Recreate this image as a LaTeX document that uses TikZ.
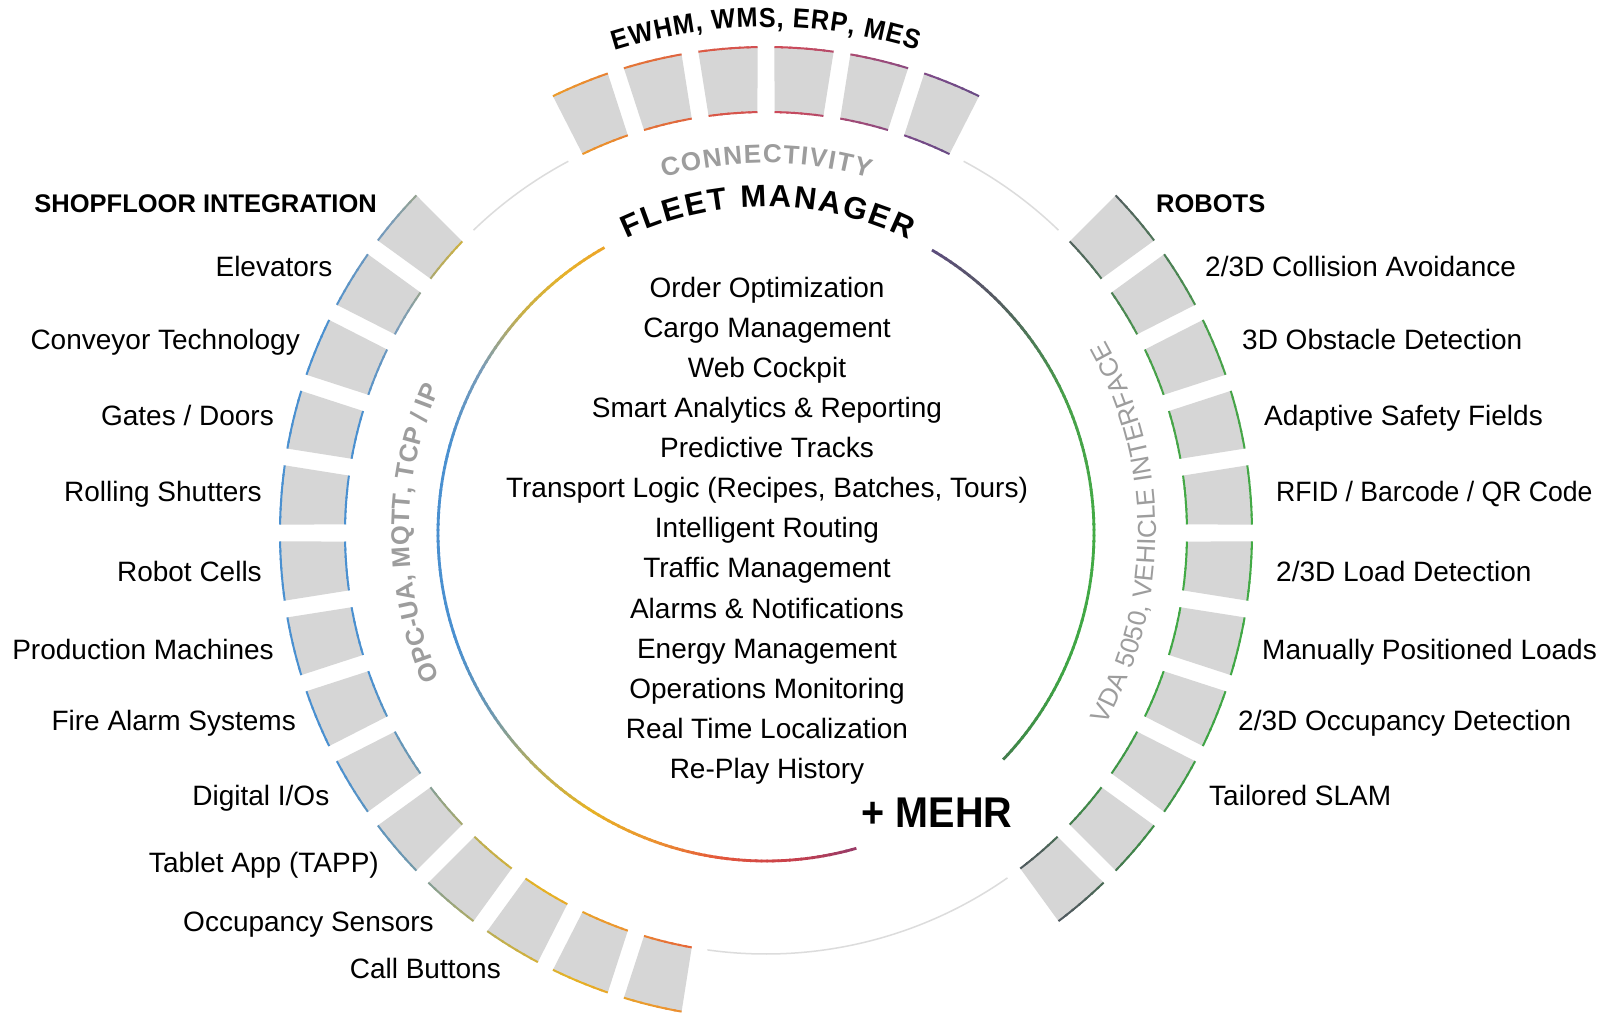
\documentclass[tikz,border=0pt]{standalone}
\usepackage{fontspec}
\setmainfont{Liberation Sans}
\newfontfamily\narrowfont[FakeStretch=0.92]{Liberation Sans}
\newfontfamily\rfidfont[FakeStretch=0.95]{Liberation Sans}
\usetikzlibrary{decorations.text}
\definecolor{segfill}{HTML}{D6D6D6}
\definecolor{ringgray}{HTML}{DCDCDC}
\definecolor{labgray}{HTML}{9D9D9D}
\definecolor{tmpA}{HTML}{000000}
\definecolor{tmpB}{HTML}{000000}
\foreach \a/\ca/\b/\cb in {-70/5A4A78/-50/4F5E5C,-50/4F5E5C/-40/3F8A48,-40/3F8A48/-25/3FA545,-25/3FA545/0/43AB45,0/43AB45/25/48A04A,25/48A04A/35/4C7E55,35/4C7E55/46/565A62,46/565A62/62/5E4A82,62/5E4A82/70/7A4A88,70/7A4A88/79/A54A74,79/A54A74/88/CC4A5A,88/CC4A5A/98/DC5A44,98/DC5A44/108/E67A34,108/E67A34/118/EEA228,118/EEA228/128/E6B22A,128/E6B22A/138/C8B048,138/C8B048/150/7A9CB8,150/7A9CB8/165/4A90D0,165/4A90D0/200/4A90D0,200/4A90D0/214/6E98B0,214/6E98B0/226/B8AE58,226/B8AE58/238/E6B224,238/E6B224/250/EC9430,250/EC9430/262/E4583A,262/E4583A/275/C8404C,275/C8404C/288/8E3A6E,288/8E3A6E/300/8E3A6E}{%
  \definecolor{tmpA}{HTML}{\ca}\definecolor{tmpB}{HTML}{\cb}%
  \pgfmathtruncatemacro\gbm{\b-1}%
  \foreach \t in {\a,...,\gbm}{%
    \pgfmathtruncatemacro\gpp{round(100*(\t-(\a))/((\b)-(\a)))}%
    \pgfmathtruncatemacro\gidx{\t+100}%
    \xglobal\colorlet{gc\gidx}{tmpB!\gpp!tmpA}%
  }%
}
% radius, start angle, end angle, line width, colour offset (degrees)
\newcommand\gradarc[5]{%
  \pgfmathsetmacro\gGA{#2}\pgfmathsetmacro\gGB{#3}%
  \pgfmathtruncatemacro\gGN{max(1,round(abs(\gGB-\gGA)))}%
  \pgfmathsetmacro\gST{(\gGB-\gGA)/\gGN}%
  \foreach \i in {1,...,\gGN}{%
    \pgfmathsetmacro\gSA{\gGA+\gST*(\i-1)}%
    \pgfmathsetmacro\gEA{\gGA+\gST*\i}%
    \pgfmathsetmacro\gEB{\i<\gGN ? \gEA+0.3*sign(\gST) : \gEA}%
    \pgfmathtruncatemacro\gCI{round((\gSA+\gEA)/2+(#5))+100}%
    \draw[draw=gc\gCI, line width=#4] (\gSA:#1) arc[start angle=\gSA, end angle=\gEB, radius=#1];
  }%
}
% slot start, slot end, colour offset of the outer edge
\newcommand\segment[3]{%
  \fill[segfill] ({#1+1.0}:486) arc[start angle={#1+1.0}, end angle={#2-1.0}, radius=486] -- ({#2-1.16}:421) arc[start angle={#2-1.16}, end angle={#1+1.16}, radius=421] -- cycle;
  \gradarc{486}{#1+1.0}{#2-1.0}{2pt}{#3}%
  \gradarc{421}{#1+1.16}{#2-1.16}{2pt}{0}%
}
\begin{document}
\begin{tikzpicture}[x=1pt,y=1pt,
  lab/.style={font=\fontsize{28}{34}\selectfont, inner sep=0pt, text=black},
  hdr/.style={font=\fontsize{25.5}{30}\selectfont\bfseries, inner sep=0pt, text=black},
  ring/.style={draw=ringgray, line width=1.5pt}]
\fill[white] (-766,-486) rectangle (831,533);
\useasboundingbox (-766,-486) rectangle (831,533);
% thin ring in the empty parts
\draw[ring] (46:421) arc[start angle=46, end angle=62, radius=421];
\draw[ring] (118:421) arc[start angle=118, end angle=134, radius=421];
\draw[ring] (262:421) arc[start angle=262, end angle=305, radius=421];
% segments
\foreach \s in {63,72,...,108}{\segment{\s}{\s+9}{0}}
\foreach \s in {-54,-45,...,36}{\segment{\s}{\s+9}{0}}
\foreach \s in {135,144,...,171}{\segment{\s}{\s+9}{9}}
\foreach \s in {180,189,...,252}{\segment{\s}{\s+9}{-9}}
% inner arcs
\gradarc{328}{119.5}{286}{2.8pt}{0}
\gradarc{328}{-43.7}{59.6}{2.8pt}{0}
% curved texts
\path[decorate, decoration={text along path, text align={fit to path}, text={|\fontsize{27.5}{30}\narrowfont\bfseries|EWHM, WMS, ERP, MES}}] (107.4:506) arc[start angle=107.4, end angle=72.6, radius=506];
\path[decorate, decoration={text along path, text align={fit to path}, text={|\fontsize{26}{28}\selectfont\bfseries\color{labgray}|CONNECTIVITY}}] (106.1:370) arc[start angle=106.1, end angle=73.8, radius=370];
\path[decorate, decoration={text along path, text align={fit to path}, text={|\fontsize{31}{34}\selectfont\bfseries|FLEET MANAGER}}] (115.4:326) arc[start angle=115.4, end angle=64.1, radius=326];
\path[decorate, decoration={text along path, text align={fit to path}, text={|\fontsize{25.5}{28}\selectfont\bfseries\color{labgray}|OPC-UA, MQTT, TCP / IP}}] (204:357) arc[start angle=204, end angle=156, radius=357];
\path[decorate, decoration={text along path, text align={fit to path}, text={|\fontsize{26}{28}\selectfont\color{labgray}|VDA 5050, VEHICLE INTERFACE}}] (-29.5:390) arc[start angle=-29.5, end angle=29.5, radius=390];
% headers
\node[hdr, anchor=base east] (shop) at (-389,320) {SHOPFLOOR INTEGRATION};
\node[hdr, anchor=base west] (robots) at (390,320) {ROBOTS};
% left labels
\node[lab, anchor=base east] (l1) at (-433.5,256) {Elevators};
\node[lab, anchor=base east] (l2) at (-466,183) {Conveyor Technology};
\node[lab, anchor=base east] (l3) at (-492,107) {Gates / Doors};
\node[lab, anchor=base east] (l4) at (-504,31) {Rolling Shutters};
\node[lab, anchor=base east] (l5) at (-504,-49) {Robot Cells};
\node[lab, anchor=base east] (l6) at (-492,-126) {Production Machines};
\node[lab, anchor=base east] (l7) at (-470,-197) {Fire Alarm Systems};
\node[lab, anchor=base east] (l8) at (-436.5,-272) {Digital I/Os};
\node[lab, anchor=base east] (l9) at (-387,-339) {Tablet App (TAPP)};
\node[lab, anchor=base east] (l10) at (-332,-398) {Occupancy Sensors};
\node[lab, anchor=base east] (l11) at (-265,-445) {Call Buttons};
% right labels
\node[lab, anchor=base west] (r1) at (439,256) {2/3D Collision Avoidance};
\node[lab, anchor=base west] (r2) at (476,183) {3D Obstacle Detection};
\node[lab, anchor=base west] (r3) at (498,107) {Adaptive Safety Fields};
\node[lab, anchor=base west, font=\fontsize{28}{34}\rfidfont] (r4) at (510,31) {RFID / Barcode / QR Code};
\node[lab, anchor=base west] (r5) at (510,-49) {2/3D Load Detection};
\node[lab, anchor=base west] (r6) at (496,-126) {Manually Positioned Loads};
\node[lab, anchor=base west] (r7) at (472,-197) {2/3D Occupancy Detection};
\node[lab, anchor=base west] (r8) at (443,-272) {Tailored SLAM};
% centre list
\foreach \t [count=\k from 0] in {Order Optimization,Cargo Management,Web Cockpit,Smart Analytics \& Reporting,Predictive Tracks,{Transport Logic (Recipes, Batches, Tours)},Intelligent Routing,Traffic Management,Alarms \& Notifications,Energy Management,Operations Monitoring,Real Time Localization,Re-Play History}{
  \node[lab, anchor=base] (c\k) at (1,235-40*\k) {\t};
}
\node[font=\fontsize{43}{46}\narrowfont\bfseries, inner sep=0pt, anchor=base] (mehr) at (171,-294) {+ MEHR};
\end{tikzpicture}
\end{document}
